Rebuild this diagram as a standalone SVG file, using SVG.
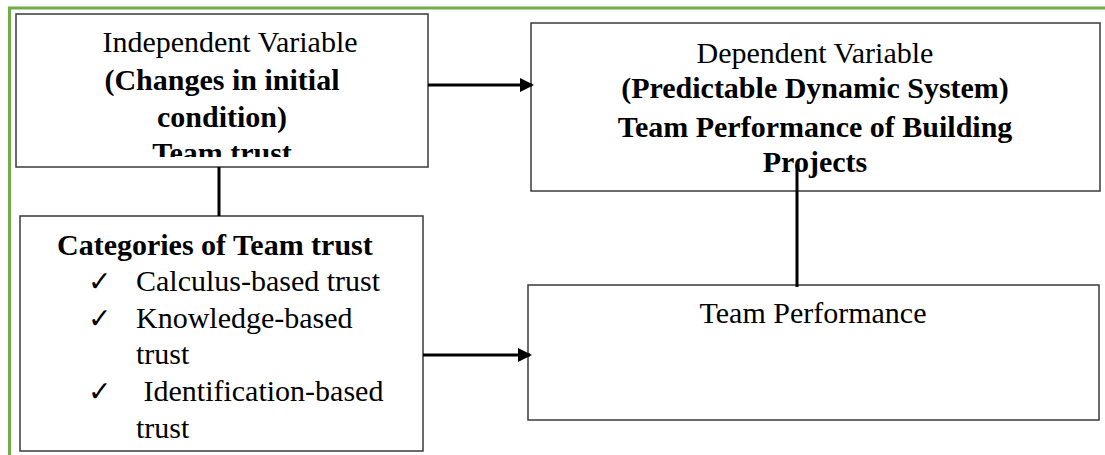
<svg xmlns="http://www.w3.org/2000/svg" width="1105" height="455" viewBox="0 0 1105 455">
<style>
.box{fill:#fff;stroke:#3a3a3a;stroke-width:1.5}
.t{font-family:'Times New Roman',Times,'Liberation Serif','DejaVu Serif',serif;font-size:30px;fill:#000}
.b{font-weight:bold}
.c{text-anchor:middle}
.chk{font-family:'DejaVu Sans',sans-serif;font-size:28px;fill:#000}
.ln{stroke:#000;stroke-width:3;fill:none}
</style>
<defs>
<marker id="ah" markerWidth="14" markerHeight="14" refX="12" refY="7" orient="auto" markerUnits="userSpaceOnUse" viewBox="0 0 14 14">
<path d="M0,0 L14,7 L0,14 Z" fill="#000"/>
</marker>
<clipPath id="clip1"><rect x="16" y="14" width="412" height="143"/></clipPath>
</defs>
<rect x="9.5" y="8" width="1200" height="600" fill="none" stroke="#70ad47" stroke-width="3"/>
<g id="independent">
<rect class="box" x="16" y="14" width="412" height="153"/>
<g clip-path="url(#clip1)">
<text class="t c" x="230" y="52">Independent Variable</text>
<text class="t b c" x="222" y="90">(Changes in initial</text>
<text class="t b c" x="222" y="127">condition)</text>
<text class="t b c" x="222" y="163">Team trust</text>
</g>
</g>
<g id="dependent">
<rect class="box" x="531" y="23" width="569" height="168"/>
<text class="t c" x="815" y="63">Dependent Variable</text>
<text class="t b c" x="815" y="98">(Predictable Dynamic System)</text>
<text class="t b c" x="815" y="137">Team Performance of Building</text>
<text class="t b c" x="815" y="172">Projects</text>
</g>
<g id="categories">
<rect class="box" x="20" y="216" width="403" height="235"/>
<text class="t b" x="57" y="255">Categories of Team trust</text>
<text class="chk" x="88" y="291">✓</text>
<text class="t" x="136" y="291">Calculus-based trust</text>
<text class="chk" x="88" y="328">✓</text>
<text class="t" x="136" y="328">Knowledge-based</text>
<text class="t" x="136" y="364">trust</text>
<text class="chk" x="88" y="401">✓</text>
<text class="t" x="136" y="401" xml:space="preserve"> Identification-based</text>
<text class="t" x="136" y="438">trust</text>
</g>
<g id="team-performance">
<rect class="box" x="528" y="285" width="571" height="135"/>
<text class="t c" x="813" y="323">Team Performance</text>
</g>
<g id="connectors">
<line class="ln" x1="428" y1="85" x2="532" y2="85" marker-end="url(#ah)"/>
<line class="ln" x1="219" y1="167" x2="219" y2="216"/>
<line class="ln" x1="797" y1="165" x2="797" y2="287"/>
<line class="ln" x1="423" y1="355" x2="530" y2="355" marker-end="url(#ah)"/>
</g>
</svg>
